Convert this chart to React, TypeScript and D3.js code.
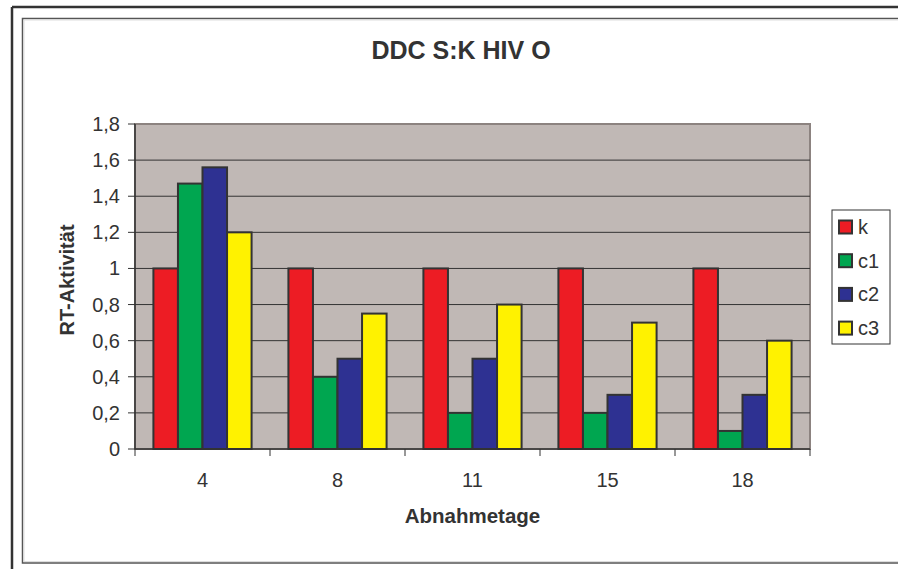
import React from 'react'
import * as d3 from 'd3'

const days = ['4', '8', '11', '15', '18']
const seriesNames = ['k', 'c1', 'c2', 'c3']
const kValues = [1, 1, 1, 1, 1]
const c1Values = [1.47, 0.4, 0.2, 0.2, 0.1]
const c2Values = [1.56, 0.5, 0.5, 0.3, 0.3]
const c3Values = [1.2, 0.75, 0.8, 0.7, 0.6]
const yTicks = [0, 0.2, 0.4, 0.6, 0.8, 1, 1.2, 1.4, 1.6, 1.8]
const colors = ['#ed1c24', '#00a650', '#2e3192', '#fff200']

const W = 898
const H = 569
const plot = { left: 135, right: 810, top: 124, bottom: 449 }
const font = '"Liberation Sans", Arial, sans-serif'
const ink = '#333333'

export default function App() {
  const values = [kValues, c1Values, c2Values, c3Values]
  const x = d3.scaleBand<string>().domain(days).range([plot.left, plot.right])
  const gap = x.bandwidth() * (1.5 / 5.5) / 2
  const xs = d3
    .scaleBand<string>()
    .domain(seriesNames)
    .range([gap, x.bandwidth() - gap])
  const y = d3.scaleLinear().domain([0, 1.8]).range([plot.bottom, plot.top])
  const fmt = (v: number) => d3.format('.1~f')(v).replace('.', ',')

  return (
    <svg
      width={W}
      height={H}
      style={{ position: 'absolute', left: 0, top: 0, background: '#fff' }}
      fontFamily={font}
    >
      {/* outer frame */}
      <line x1={12} y1={7} x2={W} y2={7} stroke={ink} strokeWidth={2.5} />
      <line x1={12} y1={7} x2={12} y2={H} stroke={ink} strokeWidth={2.5} />
      {/* chart area border */}
      <path
        d={`M${W},18.5 H22.5 V563 H${W}`}
        fill="none"
        stroke="#555"
        strokeWidth={1.5}
      />
      <path
        d={`M${W},20 H24 V561.5 H${W}`}
        fill="none"
        stroke="#ddd"
        strokeWidth={1}
      />

      <text
        x={461}
        y={59}
        textAnchor="middle"
        fontSize={25}
        fontWeight="bold"
        fill={ink}
      >
        DDC S:K HIV O
      </text>

      {/* plot area */}
      <rect
        x={plot.left}
        y={plot.top}
        width={plot.right - plot.left}
        height={plot.bottom - plot.top}
        fill="#c0b8b5"
        stroke="#8c8380"
        strokeWidth={2}
      />
      {yTicks
        .filter(t => t > 0 && t < 1.8)
        .map(t => (
          <line
            key={t}
            x1={plot.left}
            x2={plot.right}
            y1={y(t)}
            y2={y(t)}
            stroke={ink}
            strokeWidth={1}
          />
        ))}

      {days.map((d, i) => (
        <g key={d} transform={`translate(${x(d)},0)`}>
          {seriesNames.map((s, j) => (
            <rect
              key={s}
              x={xs(s)}
              y={y(values[j][i])}
              width={xs.bandwidth()}
              height={y(0) - y(values[j][i])}
              fill={colors[j]}
              stroke={ink}
              strokeWidth={2}
            />
          ))}
        </g>
      ))}

      {/* y axis */}
      <line
        x1={plot.left}
        x2={plot.left}
        y1={plot.top}
        y2={plot.bottom}
        stroke={ink}
        strokeWidth={1.5}
      />
      {yTicks.map(t => (
        <g key={t}>
          <line
            x1={plot.left - 7}
            x2={plot.left}
            y1={y(t)}
            y2={y(t)}
            stroke={ink}
            strokeWidth={1}
          />
          <text
            x={120}
            y={y(t) + 7}
            textAnchor="end"
            fontSize={20}
            fill={ink}
          >
            {fmt(t)}
          </text>
        </g>
      ))}

      {/* x axis */}
      <line
        x1={plot.left}
        x2={plot.right}
        y1={plot.bottom}
        y2={plot.bottom}
        stroke={ink}
        strokeWidth={1.5}
      />
      {[...days.map(d => x(d) as number), plot.right].map((p, i) => (
        <line
          key={i}
          x1={p}
          x2={p}
          y1={plot.bottom}
          y2={plot.bottom + 7}
          stroke={ink}
          strokeWidth={1}
        />
      ))}
      {days.map(d => (
        <text
          key={d}
          x={(x(d) as number) + x.bandwidth() / 2}
          y={487}
          textAnchor="middle"
          fontSize={20}
          fill={ink}
        >
          {d}
        </text>
      ))}

      <text
        x={(plot.left + plot.right) / 2}
        y={523}
        textAnchor="middle"
        fontSize={20.5}
        fontWeight="bold"
        fill={ink}
      >
        Abnahmetage
      </text>
      <text
        transform={`translate(74,280) rotate(-90)`}
        textAnchor="middle"
        fontSize={20}
        fontWeight="bold"
        fill={ink}
      >
        RT-Aktivität
      </text>

      {/* legend */}
      <rect
        x={832}
        y={210}
        width={58}
        height={134}
        fill="#fff"
        stroke={ink}
        strokeWidth={1}
      />
      {seriesNames.map((s, j) => (
        <g key={s} transform={`translate(0,${227 + j * 33.7})`}>
          <rect
            x={839}
            y={-6.5}
            width={13}
            height={13}
            fill={colors[j]}
            stroke={ink}
            strokeWidth={2}
          />
          <text x={858} y={7} fontSize={20} fill={ink}>
            {s}
          </text>
        </g>
      ))}
    </svg>
  )
}
